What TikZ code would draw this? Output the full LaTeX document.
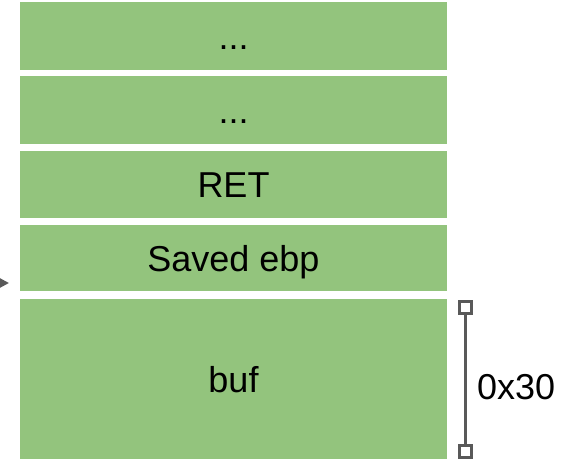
\documentclass[tikz,border=0pt]{standalone}
\usepackage{fontspec}
\setmainfont{Liberation Sans}
\usetikzlibrary{arrows.meta}
\definecolor{boxgreen}{HTML}{93C47D}
\definecolor{dimgrey}{HTML}{595959}
\tikzset{
  cell/.style={fill=boxgreen, draw=none, inner sep=0pt, text height=26pt, text depth=0pt, font=\fontsize{36}{42}\selectfont},
  dimline/.style={draw=dimgrey, line width=3pt},
  capbox/.style={draw=dimgrey, line width=3pt, fill=white, minimum size=12pt, inner sep=0pt, outer sep=0pt},
  label/.style={font=\fontsize{36}{42}\selectfont, inner sep=0pt, text height=26pt, text depth=0pt}
}
\begin{document}
\begin{tikzpicture}[x=1pt,y=-1pt]
\useasboundingbox (0,0) rectangle (564,460);
\path[cell] (20,2) rectangle (447,70) node[midway] (c1) {...};
\path[cell] (20,76) rectangle (447,144) node[midway] (c2) {...};
\path[cell] (20,151) rectangle (447,218) node[midway] (c3) {RET};
\path[cell] (20,225) rectangle (447,291) node[midway] (c4) {Saved ebp};
\path[cell] (20,299) rectangle (447,459) node[midway] (c5) {buf};
\coordinate (astart) at (-20,283);
\coordinate (aend) at (9,283);
\draw[draw=dimgrey, line width=2pt, -{Triangle[length=9pt,width=9pt]}] (astart) -- (aend);
\node[capbox] (ctop) at (465,307) {};
\node[capbox] (cbot) at (465,451) {};
\draw[dimline] (ctop.south) -- (cbot.north);
\node[label, anchor=west] (dim) at (477,386) {0x30};
\end{tikzpicture}
\end{document}
